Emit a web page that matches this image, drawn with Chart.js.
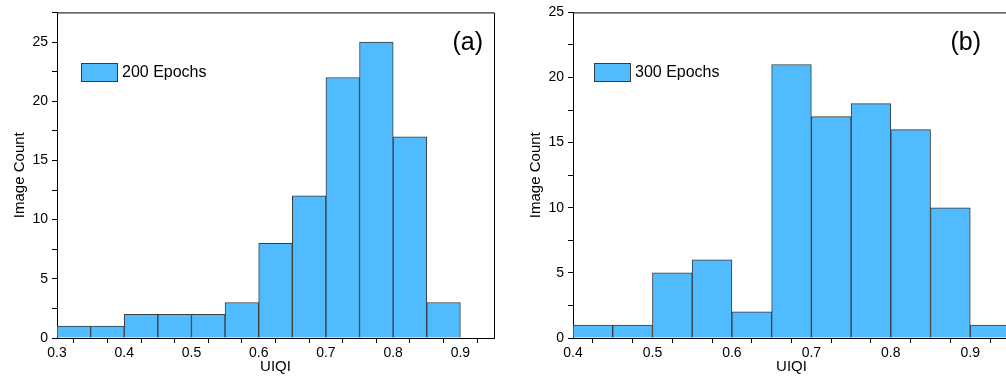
<!DOCTYPE html>
<html>
<head>
<meta charset="utf-8">
<script src="https://cdn.jsdelivr.net/npm/chart.js@4/dist/chart.umd.min.js"></script>
<style>
  html, body { margin: 0; padding: 0; background: #fff; overflow: hidden; }
  #wrap { position: relative; width: 1006px; height: 383px; overflow: hidden; }
  canvas { position: absolute; top: 0; }
</style>
</head>
<body>
<div id="wrap">
  <canvas id="chartA" style="left:0"></canvas>
  <canvas id="chartB" style="left:500px"></canvas>
</div>
<script>
// bin starts (UIQI), bin width 0.05
const binWidth = 0.05;
const binsA = [0.30, 0.35, 0.40, 0.45, 0.50, 0.55, 0.60, 0.65, 0.70, 0.75, 0.80, 0.85];
const countsA = [1, 1, 2, 2, 2, 3, 8, 12, 22, 25, 17, 3];
const binsB = [0.40, 0.45, 0.50, 0.55, 0.60, 0.65, 0.70, 0.75, 0.80, 0.85, 0.90];
const countsB = [1, 1, 5, 6, 2, 21, 17, 18, 16, 10, 1];

const barFill = "#50bbfe";
const barEdge = "#3b3b3b";
const font = "'Liberation Sans', Arial, sans-serif";

// frame on top/right + legend box + panel letter
const panelDecor = {
  id: "panelDecor",
  afterDraw(chart, args, opts) {
    const ctx = chart.ctx;
    const a = chart.chartArea;
    ctx.save();
    ctx.strokeStyle = "#000";
    ctx.lineWidth = 1;
    ctx.beginPath();
    ctx.moveTo(a.left, a.top + 0.5);
    ctx.lineTo(a.right + 0.5, a.top + 0.5);
    ctx.lineTo(a.right + 0.5, a.bottom);
    ctx.stroke();

    // legend
    const ds = chart.data.datasets[0];
    ctx.fillStyle = barFill;
    ctx.fillRect(opts.legendX, 63, 36, 18);
    ctx.strokeStyle = barEdge;
    ctx.strokeRect(opts.legendX + 0.5, 63.5, 36, 18);
    ctx.fillStyle = "#000";
    ctx.font = "16px " + font;
    ctx.textBaseline = "middle";
    ctx.textAlign = "left";
    ctx.fillText(ds.label, opts.legendX + 41, 73);

    // panel letter
    ctx.font = "25px " + font;
    ctx.textAlign = "right";
    ctx.fillText(opts.letter, opts.letterX, 43);
    ctx.restore();
  }
};

function makeChart(id, width, bins, counts, label, xMin, xMax, yMax, padLeft, padRight, legendX, letter, letterX) {
  const canvas = document.getElementById(id);
  canvas.width = width;
  canvas.height = 383;
  canvas.style.width = width + "px";
  canvas.style.height = "383px";

  const points = bins.map((b, i) => ({ x: b + binWidth / 2, y: counts[i] }));

  return new Chart(canvas.getContext("2d"), {
    type: "bar",
    data: {
      datasets: [{
        label: label,
        data: points,
        backgroundColor: barFill,
        borderColor: barEdge,
        borderWidth: 1,
        barPercentage: 1,
        categoryPercentage: 1
      }]
    },
    options: {
      responsive: false,
      animation: false,
      layout: { padding: { top: 12, left: padLeft, right: padRight, bottom: 0 } },
      plugins: {
        legend: { display: false },
        tooltip: { enabled: false },
        panelDecor: { legendX: legendX, letter: letter, letterX: letterX }
      },
      scales: {
        x: {
          type: "linear",
          min: xMin,
          max: xMax,
          offset: false,
          afterFit(s) { s.height = 45; },
          border: { display: true, color: "#000", width: 1 },
          grid: { drawOnChartArea: false, drawTicks: true, tickLength: 5, tickColor: "#000" },
          ticks: {
            stepSize: 0.05,
            padding: 2,
            color: "#000",
            font: { family: font, size: 14 },
            maxRotation: 0,
            autoSkip: false,
            callback(v) {
              const k = Math.round(v * 100);
              return k % 10 === 0 ? (k / 100).toFixed(1) : "";
            }
          },
          title: {
            display: true,
            text: "UIQI",
            color: "#000",
            font: { family: font, size: 15 },
            padding: { top: 0, bottom: 7 }
          }
        },
        y: {
          min: 0,
          max: yMax,
          afterFit(s) { s.width = 57; },
          border: { display: true, color: "#000", width: 1 },
          grid: { drawOnChartArea: false, drawTicks: true, tickLength: 5, tickColor: "#000" },
          ticks: {
            stepSize: 2.5,
            padding: 4,
            color: "#000",
            font: { family: font, size: 14 },
            autoSkip: false,
            callback(v) {
              return Math.round(v * 10) % 50 === 0 ? String(v) : "";
            }
          },
          title: {
            display: true,
            text: "Image Count",
            color: "#000",
            font: { family: font, size: 15 },
            padding: { top: 11, bottom: 0 }
          }
        }
      }
    },
    plugins: [panelDecor]
  });
}

makeChart("chartA", 500, binsA, countsA, "200 Epochs", 0.3, 0.95, 27.5, 0, 6, 81, "(a)", 483);
makeChart("chartB", 520, binsB, countsB, "300 Epochs", 0.4, 0.95, 25, 16, 10, 94, "(b)", 481);
</script>
</body>
</html>
